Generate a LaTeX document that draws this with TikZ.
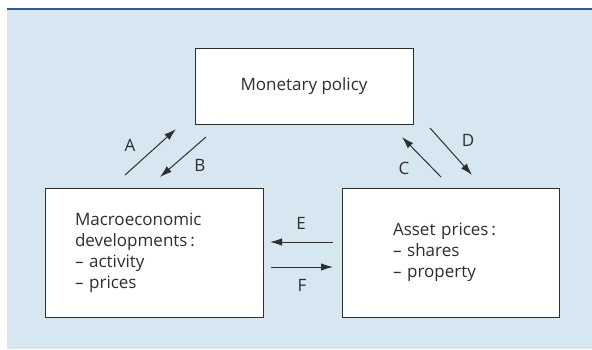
\documentclass[tikz,border=0pt]{standalone}
\usepackage{fontspec}
\setmainfont{Open Sans}
\usepackage{tikz}
\usetikzlibrary{arrows.meta}
\definecolor{panel}{HTML}{D6E7F1}
\definecolor{rulecol}{HTML}{2B5C9A}
\definecolor{ink}{HTML}{2E2E2E}

\begin{document}
\begin{tikzpicture}[x=1pt,y=1pt,
		box/.style={draw=ink, line width=1pt, fill=white, text=ink, font=\fontsize{17}{21}\selectfont},
		link/.style={draw=ink, line width=1pt, -{Latex[length=12pt,width=7.5pt]}},
		tag/.style={text=ink, inner sep=0pt, font=\fontsize{17}{21}\selectfont}]
		\useasboundingbox (0,0) rectangle (592,-349);
		\fill [panel] (7,-10) rectangle (592,-349);
		\draw [rulecol, line width=2.5pt] (7,-9) -- (592,-9);
		\node [box, minimum width=218pt, minimum height=76pt] (policy) at (304,-86) {Monetary policy};
		\node [box, minimum height=129pt, text width=158pt, inner xsep=30pt, align=left] (macro) at (154,-252.5) {Macroeconomic\\developments\,:\\– activity\\– prices};
		\node [box, minimum height=129pt, text width=115pt, inner xsep=51pt, align=left] (asset) at (450.5,-252.5) {Asset~prices\,:\\– shares\\– property};
		\coordinate (a0) at (125,-175);
		\coordinate (a1) at (176,-129);
		\coordinate (b0) at (206,-137);
		\coordinate (b1) at (160,-177);
		\coordinate (c0) at (441,-177);
		\coordinate (c1) at (402,-137);
		\coordinate (d0) at (430,-128);
		\coordinate (d1) at (472,-175);
		\coordinate (e0) at (333,-242);
		\coordinate (e1) at (270,-242);
		\coordinate (f0) at (271,-267);
		\coordinate (f1) at (333,-267);
		\draw [link] (a0) -- (a1);
		\draw [link] (b0) -- (b1);
		\draw [link] (c0) -- (c1);
		\draw [link] (d0) -- (d1);
		\draw [link] (e0) -- (e1);
		\draw [link] (f0) -- (f1);
		\node [tag] (la) at (130,-145) {A};
		\node [tag] (lb) at (200,-165) {B};
		\node [tag] (lc) at (404,-168) {C};
		\node [tag] (ld) at (468,-140) {D};
		\node [tag] (le) at (301,-223) {E};
		\node [tag] (lf) at (302,-285) {F};
\end{tikzpicture}
\end{document}
